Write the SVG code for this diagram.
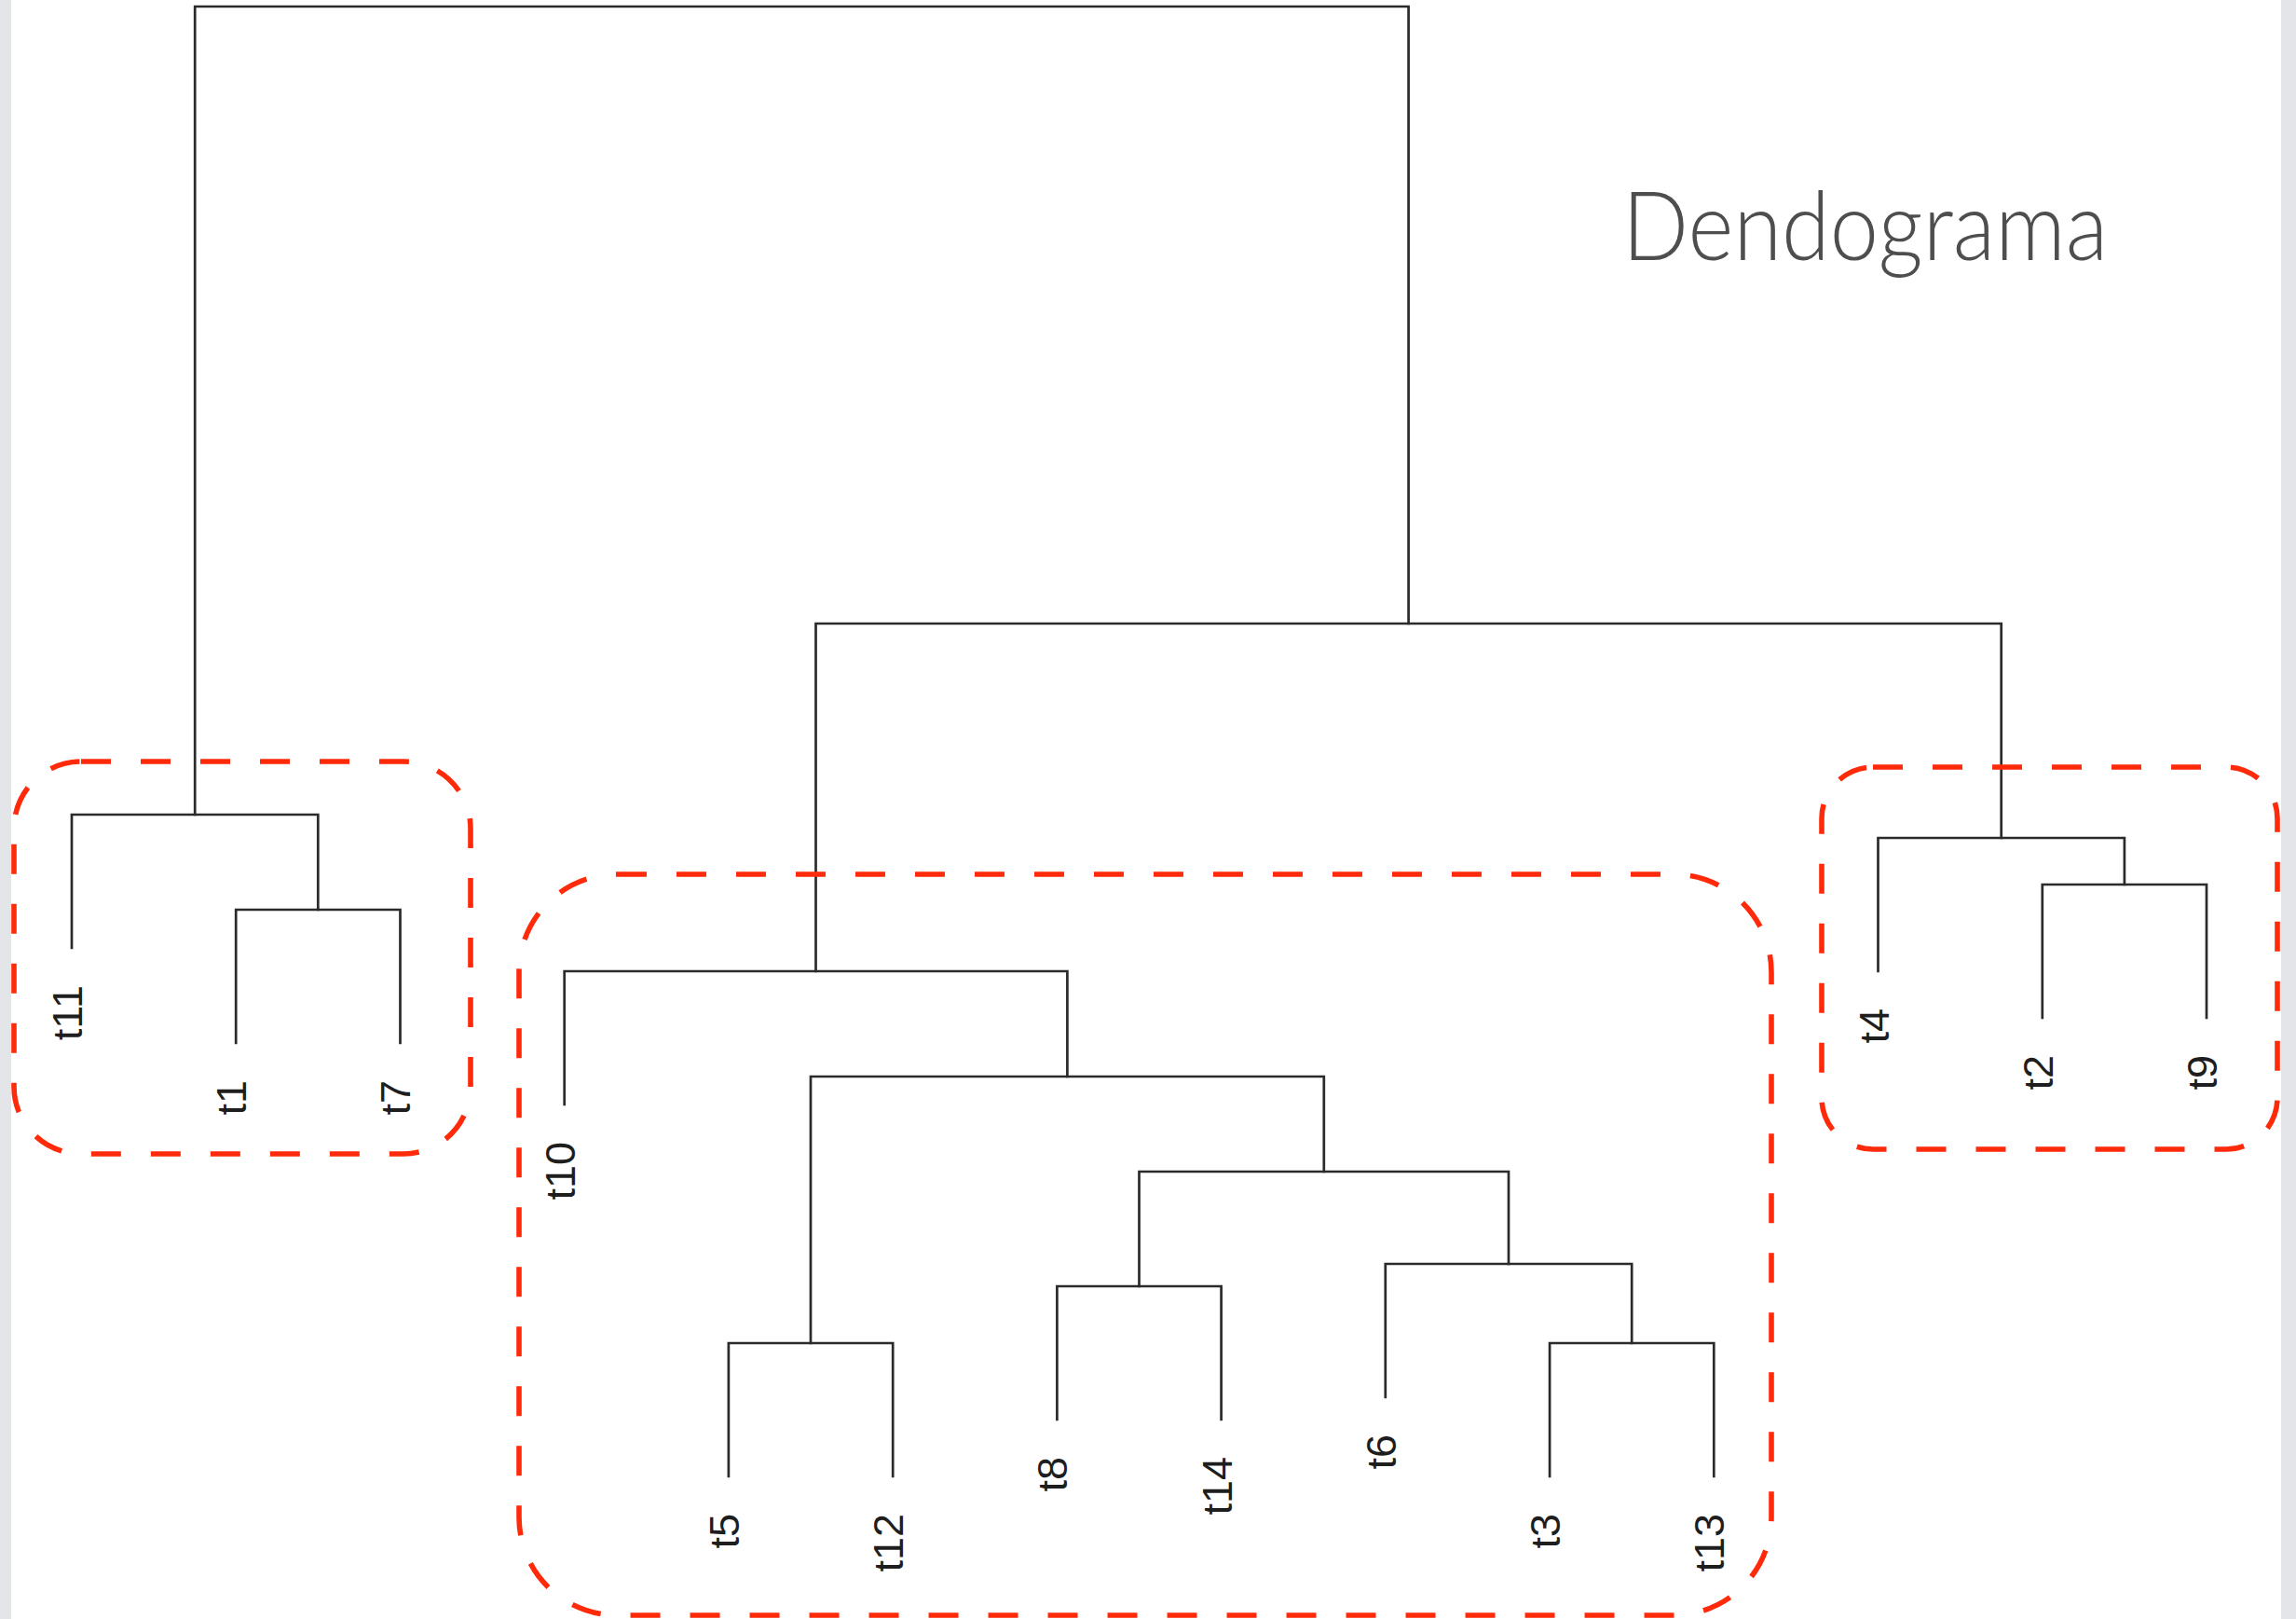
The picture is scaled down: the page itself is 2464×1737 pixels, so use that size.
<svg xmlns="http://www.w3.org/2000/svg" width="2464" height="1737" viewBox="0 0 2464 1737">
<style>
.band{fill:#e3e5e9}
.br{fill:none;stroke:#2b2b2b;stroke-width:2.7;stroke-linecap:square}
.lbl{font-family:"Liberation Sans",Arial,sans-serif;font-size:45px;fill:#1e1e1e;text-anchor:end}
.clu{fill:none;stroke:#ff2a0a;stroke-width:5.6;stroke-dasharray:32 32}
.title{font-family:"Lato","Open Sans",sans-serif;font-weight:300;font-size:102px;fill:#4e4e4e}
</style>
<rect width="2464" height="1737" fill="#ffffff"/>
<rect class="band" x="0" y="0" width="12" height="1737"/>
<rect class="band" x="2448" y="0" width="16" height="1737"/>
<g id="title"><text class="title" x="1741" y="279" textLength="521" lengthAdjust="spacingAndGlyphs">Dendograma</text></g>
<g id="connectors">
<path class="br" d="M209.2,874 V7 H1511.6 V669"/>
<path class="br" d="M77,1017 V874 H341.3 V976"/>
<path class="br" d="M253.2,1119 V976 H429.5 V1119"/>
<path class="br" d="M875.5,1042 V669 H2147.7 V899"/>
<path class="br" d="M605.7,1185 V1042 H1145.4 V1155"/>
<path class="br" d="M870,1441 V1155 H1420.8 V1257"/>
<path class="br" d="M781.9,1584 V1441 H958.2 V1584"/>
<path class="br" d="M1222.5,1380 V1257 H1619 V1356"/>
<path class="br" d="M1134.4,1523 V1380 H1310.6 V1523"/>
<path class="br" d="M1486.8,1499 V1356 H1751.2 V1441"/>
<path class="br" d="M1663.1,1584 V1441 H1839.3 V1584"/>
<path class="br" d="M2015.5,1042 V899 H2279.9 V949"/>
<path class="br" d="M2191.8,1092 V949 H2368 V1092"/>
</g>
<g id="clusters">
<rect id="cluster-left" class="clu" x="15" y="817" width="490" height="421" rx="72" ry="72"/>
<rect id="cluster-middle" class="clu" x="557" y="938" width="1344" height="795" rx="105" ry="105"/>
<rect id="cluster-right" class="clu" x="1955" y="823" width="489" height="410" rx="55" ry="55"/>
</g>
<g id="leaf-t11"><text class="lbl" transform="translate(88,1057) rotate(-90)">t11</text></g>
<g id="leaf-t1"><text class="lbl" transform="translate(264,1159) rotate(-90)">t1</text></g>
<g id="leaf-t7"><text class="lbl" transform="translate(440,1159) rotate(-90)">t7</text></g>
<g id="leaf-t10"><text class="lbl" transform="translate(617,1225) rotate(-90)">t10</text></g>
<g id="leaf-t5"><text class="lbl" transform="translate(793,1624) rotate(-90)">t5</text></g>
<g id="leaf-t12"><text class="lbl" transform="translate(969,1624) rotate(-90)">t12</text></g>
<g id="leaf-t8"><text class="lbl" transform="translate(1145,1563) rotate(-90)">t8</text></g>
<g id="leaf-t14"><text class="lbl" transform="translate(1322,1563) rotate(-90)">t14</text></g>
<g id="leaf-t6"><text class="lbl" transform="translate(1498,1539) rotate(-90)">t6</text></g>
<g id="leaf-t3"><text class="lbl" transform="translate(1674,1624) rotate(-90)">t3</text></g>
<g id="leaf-t13"><text class="lbl" transform="translate(1850,1624) rotate(-90)">t13</text></g>
<g id="leaf-t4"><text class="lbl" transform="translate(2027,1082) rotate(-90)">t4</text></g>
<g id="leaf-t2"><text class="lbl" transform="translate(2203,1132) rotate(-90)">t2</text></g>
<g id="leaf-t9"><text class="lbl" transform="translate(2379,1132) rotate(-90)">t9</text></g>
</svg>
